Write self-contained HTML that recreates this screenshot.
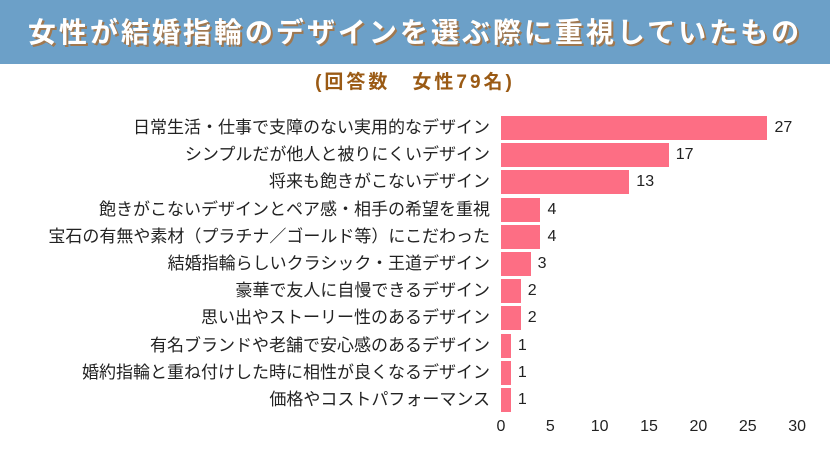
<!DOCTYPE html><html><head><meta charset="utf-8"><style>
body{margin:0;width:830px;height:450px;background:#fff;overflow:hidden;position:relative;font-family:"Liberation Sans","Noto Sans CJK JP",sans-serif}
.hd{position:absolute;left:0;top:0;width:830px;height:64px;background:#6ca0c8}
.t{position:absolute;left:0;width:830px;top:11px;text-align:center;color:#fff;font-weight:bold;font-size:28px;letter-spacing:3px;text-shadow:2px 2px 0 #a07850}
.s{position:absolute;left:0;width:830px;top:67px;text-align:center;color:#9a5a14;font-weight:bold;font-size:19px;letter-spacing:3px}
.l{position:absolute;right:340px;font-size:17px;color:#222;white-space:nowrap;line-height:24px}
.b{position:absolute;left:501px;height:24px;background:#fd6e84}
.v{position:absolute;font-size:16px;color:#222;line-height:24px}
.x{position:absolute;top:418px;font-size:16px;color:#222;width:30px;margin-left:-15px;text-align:center}
</style></head><body>
<div class="hd"></div><div class="t">女性が結婚指輪のデザインを選ぶ際に重視していたもの</div>
<div class="s">(回答数　女性79名)</div>
<div id="c"></div>
<script>
var d=[["日常生活・仕事で支障のない実用的なデザイン",27],["シンプルだが他人と被りにくいデザイン",17],["将来も飽きがこないデザイン",13],["飽きがこないデザインとペア感・相手の希望を重視",4],["宝石の有無や素材（プラチナ／ゴールド等）にこだわった",4],["結婚指輪らしいクラシック・王道デザイン",3],["豪華で友人に自慢できるデザイン",2],["思い出やストーリー性のあるデザイン",2],["有名ブランドや老舗で安心感のあるデザイン",1],["婚約指輪と重ね付けした時に相性が良くなるデザイン",1],["価格やコストパフォーマンス",1]];
var h="",k=9.87;
d.forEach(function(r,i){var y=116+i*27.2;
h+='<div class="l" style="top:'+y+'px">'+r[0]+'</div><div class="b" style="top:'+y+'px;width:'+(r[1]*k)+'px"></div><div class="v" style="top:'+y+'px;left:'+(501+r[1]*k+7)+'px">'+r[1]+'</div>';});
for(var j=0;j<=30;j+=5)h+='<div class="x" style="left:'+(501+j*k)+'px">'+j+'</div>';
document.getElementById("c").innerHTML=h;
</script>
</body></html>
